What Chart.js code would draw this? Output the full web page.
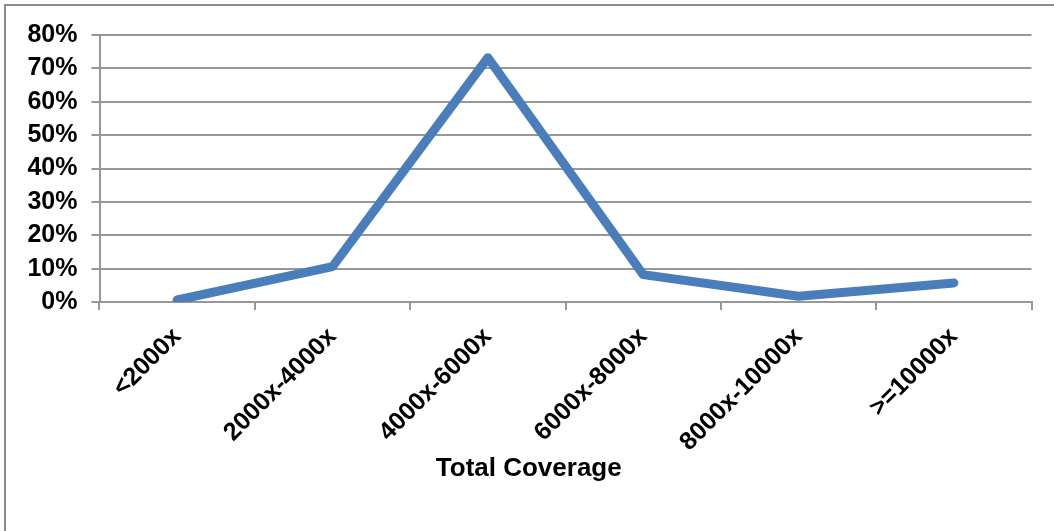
<!DOCTYPE html>
<html>
<head>
<meta charset="utf-8">
<script src="https://cdn.jsdelivr.net/npm/chart.js@4/dist/chart.umd.min.js"></script>
<style>
  html, body { margin: 0; padding: 0; background: #ffffff; }
  canvas { display: block; }
</style>
</head>
<body>
<canvas id="chart" width="1054" height="531"></canvas>
<script>
// Coverage bins and share of targets in each bin (percent)
const categories = ['<2000x', '2000x-4000x', '4000x-6000x', '6000x-8000x', '8000x-10000x', '>=10000x'];
const shareValues = [0.6, 10.6, 73.2, 8.2, 1.7, 5.7];
const yTickValues = [0, 10, 20, 30, 40, 50, 60, 70, 80];
const xAxisTitle = 'Total Coverage';

const FONT_FAMILY = "'Liberation Sans', Arial, sans-serif";
const GRID_GREY = '#979797';

// White background and outer frame
const framePlugin = {
  id: 'frame',
  beforeDraw(chart) {
    const ctx = chart.ctx;
    ctx.save();
    ctx.fillStyle = '#ffffff';
    ctx.fillRect(0, 0, chart.width, chart.height);
    ctx.strokeStyle = '#8c8c8c';
    ctx.lineWidth = 2;
    ctx.strokeRect(5, 5, chart.width + 20, chart.height + 20);
    ctx.restore();
  }
};

new Chart(document.getElementById('chart'), {
  type: 'line',
  data: {
    labels: categories,
    datasets: [{
      data: shareValues,
      borderColor: '#4a7ebb',
      backgroundColor: '#4a7ebb',
      borderWidth: 9,
      borderCapStyle: 'round',
      borderJoinStyle: 'round',
      pointRadius: 0,
      pointHoverRadius: 0,
      tension: 0,
      fill: false
    }]
  },
  options: {
    responsive: false,
    animation: false,
    events: [],
    layout: {
      autoPadding: false,
      padding: { top: 35, left: 26, right: 22.5, bottom: 0 }
    },
    plugins: {
      legend: { display: false },
      tooltip: { enabled: false },
      title: {
        display: true,
        text: xAxisTitle,
        position: 'bottom',
        align: 'center',
        color: '#000000',
        font: { family: FONT_FAMILY, size: 26, weight: 'bold', lineHeight: 1.2 },
        padding: { top: 0, bottom: 47 }
      }
    },
    scales: {
      x: {
        type: 'category',
        offset: true,
        grid: {
          offset: true,
          drawOnChartArea: false,
          drawTicks: true,
          tickLength: 8,
          color: GRID_GREY,
          lineWidth: 2
        },
        border: { display: true, color: GRID_GREY, width: 2 },
        ticks: {
          autoSkip: false,
          minRotation: 45,
          maxRotation: 45,
          padding: 12,
          color: '#000000',
          font: { family: FONT_FAMILY, size: 25, weight: 'bold' }
        },
        afterFit(scale) { scale.height = 531 - 302 - (31.2 + 47); }
      },
      y: {
        min: 0,
        max: 80,
        afterBuildTicks(scale) { scale.ticks = yTickValues.map(v => ({ value: v })); },
        grid: {
          drawOnChartArea: true,
          drawTicks: true,
          tickLength: 8,
          color: GRID_GREY,
          lineWidth: 2
        },
        border: { display: true, color: GRID_GREY, width: 2 },
        ticks: {
          padding: 14,
          color: '#000000',
          font: { family: FONT_FAMILY, size: 25, weight: 'bold' },
          callback: v => v + '%'
        },
        afterFit(scale) { scale.width = 73.5; }
      }
    }
  },
  plugins: [framePlugin]
});
</script>
</body>
</html>
